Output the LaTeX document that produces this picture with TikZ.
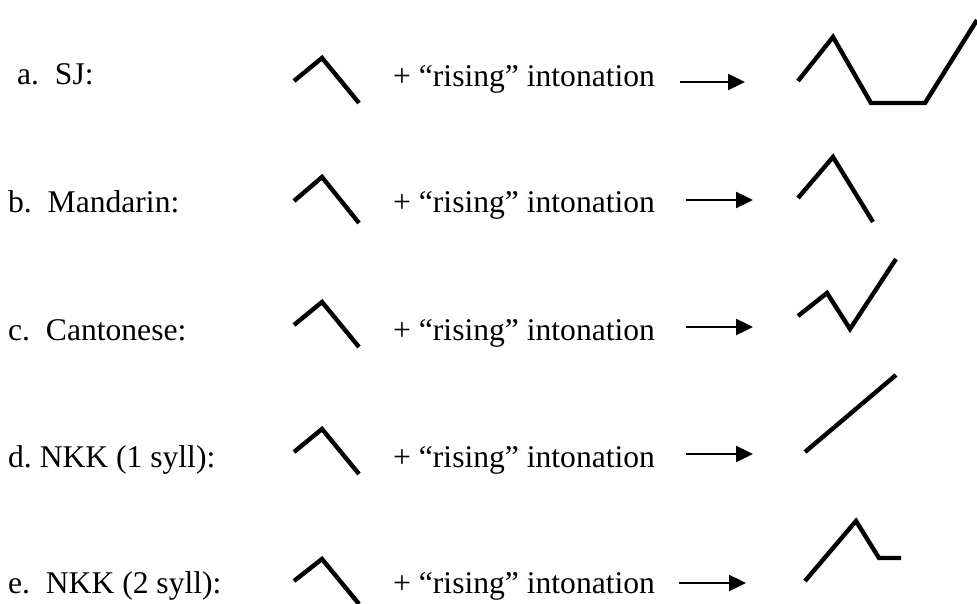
\documentclass[tikz,border=0pt]{standalone}
\usepackage{fontspec}
\setmainfont{Liberation Serif}
\usetikzlibrary{arrows.meta}
\begin{document}
\begin{tikzpicture}[x=1pt,y=-1pt,
  lbl/.style={anchor=base west,inner sep=0pt,font=\fontsize{31.6}{38}\selectfont},
  tone/.style={line width=4.4pt,line join=miter},
  conv/.style={line width=2.4pt,-{Triangle[length=17pt,width=16pt]}}]
\useasboundingbox (0,0) rectangle (977,604);
% row a
\node[lbl] (la) at (17,85) {a.~~SJ:};
\draw[tone] (294,81) -- (322,58) -- (359,103);
\node[lbl] (ia) at (393,87) {+ “rising” intonation};
\coordinate (sa) at (680,82); \coordinate (ea) at (745,82);
\draw[conv] (sa) -- (ea);
\draw[tone] (798,81) -- (833,37) -- (871,103) -- (925,103) -- (977,20);
% row b
\node[lbl] (lb) at (8,213) {b.~~Mandarin:};
\draw[tone] (294,201) -- (322,177) -- (359,223);
\node[lbl] (ib) at (393,213) {+ “rising” intonation};
\coordinate (sb) at (686,200); \coordinate (eb) at (753,200);
\draw[conv] (sb) -- (eb);
\draw[tone] (798,198) -- (833,157) -- (873,222);
% row c
\node[lbl] (lc) at (8,340) {c.~~Cantonese:};
\draw[tone] (294,325) -- (322,302) -- (359,347);
\node[lbl] (ic) at (393,340) {+ “rising” intonation};
\coordinate (sc) at (686,327); \coordinate (ec) at (753,327);
\draw[conv] (sc) -- (ec);
\draw[tone] (798,316) -- (827,293) -- (850,329) -- (896,259);
% row d
\node[lbl] (ld) at (8,467) {d.~NKK (1 syll):};
\draw[tone] (294,452) -- (322,429) -- (359,474);
\node[lbl] (id) at (393,467) {+ “rising” intonation};
\coordinate (sd) at (686,454); \coordinate (ed) at (753,454);
\draw[conv] (sd) -- (ed);
\draw[tone] (805,452) -- (896,375);
% row e
\node[lbl] (le) at (8,593) {e.~~NKK (2 syll):};
\draw[tone] (294,581) -- (322,559) -- (359,604);
\node[lbl] (ie) at (393,593) {+ “rising” intonation};
\coordinate (se) at (679,583); \coordinate (ee) at (746,583);
\draw[conv] (se) -- (ee);
\draw[tone] (805,581) -- (856,521) -- (879,558) -- (901,558);
\end{tikzpicture}
\end{document}
